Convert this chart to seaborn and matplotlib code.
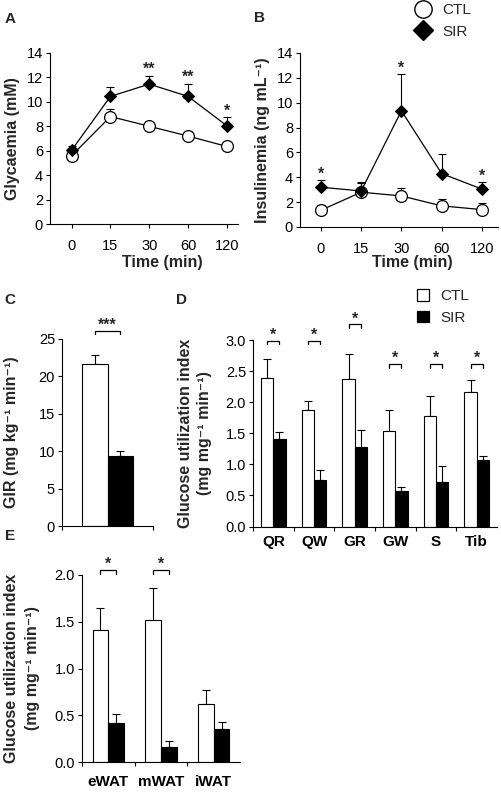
import numpy as np
import pandas as pd
import matplotlib
matplotlib.use("Agg")
import matplotlib.pyplot as plt
from matplotlib.lines import Line2D
from matplotlib.patches import Patch
import seaborn as sns

# ---------------- data ----------------
times = ["0", "15", "30", "60", "120"]
glyc_ctl = [5.6, 8.8, 8.0, 7.2, 6.35]
glyc_ctl_err = [0.15, 0.6, 0.15, 0.15, 0.15]
glyc_sir = [6.05, 10.45, 11.45, 10.45, 8.05]
glyc_sir_err = [0.35, 0.75, 0.7, 1.05, 0.7]
glyc_stars = ["", "", "**", "**", "*"]

ins_ctl = [1.35, 2.8, 2.5, 1.7, 1.4]
ins_ctl_err = [0.45, 0.7, 0.65, 0.55, 0.55]
ins_sir = [3.2, 2.9, 9.35, 4.3, 3.05]
ins_sir_err = [0.55, 0.7, 2.95, 1.55, 0.55]
ins_stars = ["*", "", "*", "", "*"]

gir_groups = ["CTL", "SIR"]
gir_vals = [21.65, 9.3]
gir_err = [1.15, 0.7]
gir_bracket = 26.1
gir_star = "***"

muscles = ["QR", "QW", "GR", "GW", "S", "Tib"]
mus_ctl = [2.39, 1.87, 2.38, 1.54, 1.78, 2.16]
mus_ctl_err = [0.31, 0.15, 0.39, 0.33, 0.32, 0.19]
mus_sir = [1.405, 0.745, 1.28, 0.57, 0.72, 1.07]
mus_sir_err = [0.115, 0.165, 0.28, 0.07, 0.25, 0.07]
mus_bracket = [2.99, 2.99, 3.25, 2.61, 2.61, 2.61]
mus_stars = ["*", "*", "*", "*", "*", "*"]

wat = ["eWAT", "mWAT", "iWAT"]
wat_ctl = [1.41, 1.52, 0.62]
wat_ctl_err = [0.24, 0.34, 0.155]
wat_sir = [0.42, 0.16, 0.35]
wat_sir_err = [0.09, 0.06, 0.08]
wat_bracket = [2.05, 2.05, None]
wat_stars = ["*", "*", ""]

# ---------------- style ----------------
sns.set_style("ticks")
plt.rcParams["font.family"] = ["Liberation Sans", "DejaVu Sans"]
plt.rcParams.update({
    "font.size": 10,
    "axes.linewidth": 0.8,
    "xtick.major.width": 0.8, "ytick.major.width": 0.8,
    "xtick.minor.width": 0.8,
    "xtick.major.size": 3, "ytick.major.size": 3, "xtick.minor.size": 3,
    "xtick.direction": "out", "ytick.direction": "out",
    "xtick.color": "black", "ytick.color": "black",
    "axes.edgecolor": "black",
    "xtick.labelsize": 10.5, "ytick.labelsize": 10.5,
})
LAB = 11.5

W, H = 502, 792
fig = plt.figure(figsize=(W / 100, H / 100), dpi=100)


def add_ax(l, t, r, b):
    return fig.add_axes([l / W, 1 - b / H, (r - l) / W, (b - t) / H])


axA = add_ax(50, 53, 238, 224)
axB = add_ax(300, 53, 498, 227)
axC = add_ax(62, 339, 153, 526)
axD = add_ax(253, 340, 497, 526.5)
axE = add_ax(82, 575, 240, 762)

for ax in [axA, axB, axC, axD, axE]:
    sns.despine(ax=ax)
    ax.tick_params(axis="y", pad=2)


def px_per_unit(ax):
    bb = ax.get_window_extent()
    y0, y1 = ax.get_ylim()
    return bb.height / (y1 - y0)


# ---------------- line panels ----------------
def line_panel(ax, ctl, ctl_err, sir, sir_err, stars, ylabel, xl_left, xl_right):
    pos = np.arange(len(times))
    ax.errorbar(pos, ctl, yerr=[np.zeros(len(ctl)), ctl_err], fmt="none",
                ecolor="black", elinewidth=0.8, capsize=3, capthick=0.8, zorder=2)
    ax.errorbar(pos, sir, yerr=[np.zeros(len(sir)), sir_err], fmt="none",
                ecolor="black", elinewidth=0.8, capsize=3, capthick=0.8, zorder=2)
    sns.lineplot(x=times, y=ctl, ax=ax, color="black", lw=0.9, marker="o",
                 markersize=8.5, markerfacecolor="white", markeredgecolor="black",
                 markeredgewidth=0.9, sort=False, zorder=3)
    sns.lineplot(x=times, y=sir, ax=ax, color="black", lw=0.9, marker="D",
                 markersize=6.5, markerfacecolor="black", markeredgecolor="black",
                 sort=False, zorder=4)
    ax.set_ylim(0, 14)
    ax.set_yticks(np.arange(0, 15, 2))
    ax.set_xlim(xl_left, xl_right)
    ax.set_xticks(pos)
    ax.set_xticklabels(times)
    ax.tick_params(axis="x", pad=7.5)
    tops = [max(c + ce, s + se) for c, ce, s, se in zip(ctl, ctl_err, sir, sir_err)]
    for i, st in enumerate(stars):
        if st:
            ax.annotate(st, (pos[i], tops[i]), xytext=(0, 1.3), textcoords="offset points",
                        ha="center", va="baseline", fontsize=11.5, fontweight="bold",
                        annotation_clip=False)
    ax.set_ylabel(ylabel, fontweight="bold", fontsize=LAB)
    ax.set_xlabel("Time (min)", fontweight="bold", fontsize=LAB)
    return ax


line_panel(axA, glyc_ctl, glyc_ctl_err, glyc_sir, glyc_sir_err, glyc_stars,
           "Glycaemia (mM)", -0.56, 4.29)
axA.yaxis.label.set_va("center")
axA.yaxis.set_label_coords((12.5 - 50) / 188, 0.5)
axA.xaxis.label.set_va("center")
axA.xaxis.set_label_coords((162 - 50) / 188, (224 - 262) / 171)

line_panel(axB, ins_ctl, ins_ctl_err, ins_sir, ins_sir_err, ins_stars,
           "Insulinemia (ng mL⁻¹)", -0.52, 4.4)
axB.yaxis.label.set_va("center")
axB.yaxis.set_label_coords((262 - 300) / 198, 0.5)
axB.xaxis.label.set_va("center")
axB.xaxis.set_label_coords((412 - 300) / 198, (227 - 262) / 174)

# legend for B
hB = [Line2D([], [], marker="o", ls="none", markerfacecolor="white", markeredgecolor="black",
             markersize=12.5, markeredgewidth=1.0),
      Line2D([], [], marker="D", ls="none", markerfacecolor="black", markeredgecolor="black",
             markersize=10)]
fig.legend(hB, ["CTL", "SIR"], loc="upper left", bbox_to_anchor=(415 / W, 1 - 3 / H),
           frameon=False, handlelength=1.0, handletextpad=0.8, labelspacing=0.5,
           borderpad=0, borderaxespad=0, fontsize=11)


# ---------------- bar panels ----------------
def bar_panel(ax, cats, ctl, ctl_err, sir, sir_err, width):
    df = pd.DataFrame({
        "cat": list(cats) * 2,
        "group": ["CTL"] * len(cats) + ["SIR"] * len(cats),
        "val": list(ctl) + list(sir),
    })
    sns.barplot(data=df, x="cat", y="val", hue="group", order=list(cats),
                hue_order=["CTL", "SIR"], palette={"CTL": "white", "SIR": "black"},
                edgecolor="black", linewidth=0.8, width=width, errorbar=None,
                legend=False, ax=ax, zorder=2)
    cont_ctl, cont_sir = ax.containers[0], ax.containers[1]
    xc = np.array([p.get_x() + p.get_width() / 2 for p in cont_ctl])
    xs = np.array([p.get_x() + p.get_width() / 2 for p in cont_sir])
    ax.errorbar(xc, ctl, yerr=[np.zeros(len(ctl)), ctl_err], fmt="none", ecolor="black",
                elinewidth=0.8, capsize=3, capthick=0.8, zorder=1)
    ax.errorbar(xs, sir, yerr=[np.zeros(len(sir)), sir_err], fmt="none", ecolor="black",
                elinewidth=0.8, capsize=3, capthick=0.8, zorder=1)
    ax.set_xlim(-0.5, len(cats) - 0.5)
    ax.set_xticks(np.arange(len(cats)) - 0.5, minor=True)
    ax.tick_params(axis="x", which="major", length=0)
    ax.set_xlabel("")
    return xc, xs


def brackets(ax, xc, xs, ys, stars, star_size=11.5):
    ppu = px_per_unit(ax)
    h = 3.5 / ppu
    for a, b, y, st in zip(xc, xs, ys, stars):
        if y is None or not st:
            continue
        ax.plot([a, a, b, b], [y - h, y, y, y - h], color="black", lw=0.9,
                clip_on=False, solid_joinstyle="miter")
        ax.annotate(st, ((a + b) / 2, y), xytext=(0, 0.8), textcoords="offset points",
                    ha="center", va="baseline", fontsize=star_size, fontweight="bold",
                    annotation_clip=False)


# C
xc, xs = bar_panel(axC, [""], [gir_vals[0]], [gir_err[0]], [gir_vals[1]], [gir_err[1]], 0.56)
axC.set_ylim(0, 25)
axC.set_yticks(np.arange(0, 26, 5))
axC.set_xticks([])
axC.set_xticks([-0.5, 0.5], minor=True)
axC.set_ylabel("GIR (mg kg⁻¹ min⁻¹)", fontweight="bold", fontsize=LAB)
axC.yaxis.label.set_va("center")
axC.yaxis.set_label_coords((12 - 62) / 91, 0.5)
brackets(axC, xc, xs, [gir_bracket], [gir_star])

# D
xc, xs = bar_panel(axD, muscles, mus_ctl, mus_ctl_err, mus_sir, mus_sir_err, 0.6)
axD.set_ylim(0, 3.0)
axD.set_yticks(np.arange(0, 3.01, 0.5))
axD.set_yticklabels([f"{v:.1f}" for v in np.arange(0, 3.01, 0.5)])
axD.set_xticklabels(muscles, fontweight="bold", fontsize=11)
axD.tick_params(axis="x", which="major", pad=6)
axD.set_ylabel("Glucose utilization index\n(mg mg⁻¹ min⁻¹)", fontweight="bold",
               fontsize=LAB, linespacing=1.3)
axD.yaxis.label.set_va("center")
axD.yaxis.set_label_coords((195 - 253) / 244, 0.5)
brackets(axD, xc, xs, mus_bracket, mus_stars)

hD = [Patch(facecolor="white", edgecolor="black", lw=0.9),
      Patch(facecolor="black", edgecolor="black", lw=0.9)]
fig.legend(hD, ["CTL", "SIR"], loc="upper left", bbox_to_anchor=(417 / W, 1 - 289 / H),
           frameon=False, handlelength=0.8, handleheight=0.8, handletextpad=0.75,
           labelspacing=0.5, borderpad=0, borderaxespad=0, fontsize=11)

# E
xc, xs = bar_panel(axE, wat, wat_ctl, wat_ctl_err, wat_sir, wat_sir_err, 0.6)
axE.set_ylim(0, 2.0)
axE.set_yticks(np.arange(0, 2.01, 0.5))
axE.set_yticklabels([f"{v:.1f}" for v in np.arange(0, 2.01, 0.5)])
axE.set_xticklabels(wat, fontweight="bold", fontsize=11)
axE.tick_params(axis="x", which="major", pad=9)
axE.set_ylabel("Glucose utilization index\n(mg mg⁻¹ min⁻¹)", fontweight="bold",
               fontsize=LAB, linespacing=1.55)
axE.yaxis.label.set_va("center")
axE.yaxis.set_label_coords((22 - 82) / 158, 0.5)
brackets(axE, xc, xs, wat_bracket, wat_stars)

# panel letters
for letter, x, y in [("A", 10, 19), ("B", 260, 18), ("C", 10, 300), ("D", 182, 300), ("E", 10, 536)]:
    fig.text(x / W, 1 - y / H, letter, fontweight="bold", fontsize=11,
             ha="center", va="center")

fig.savefig("out.png", dpi=100)
